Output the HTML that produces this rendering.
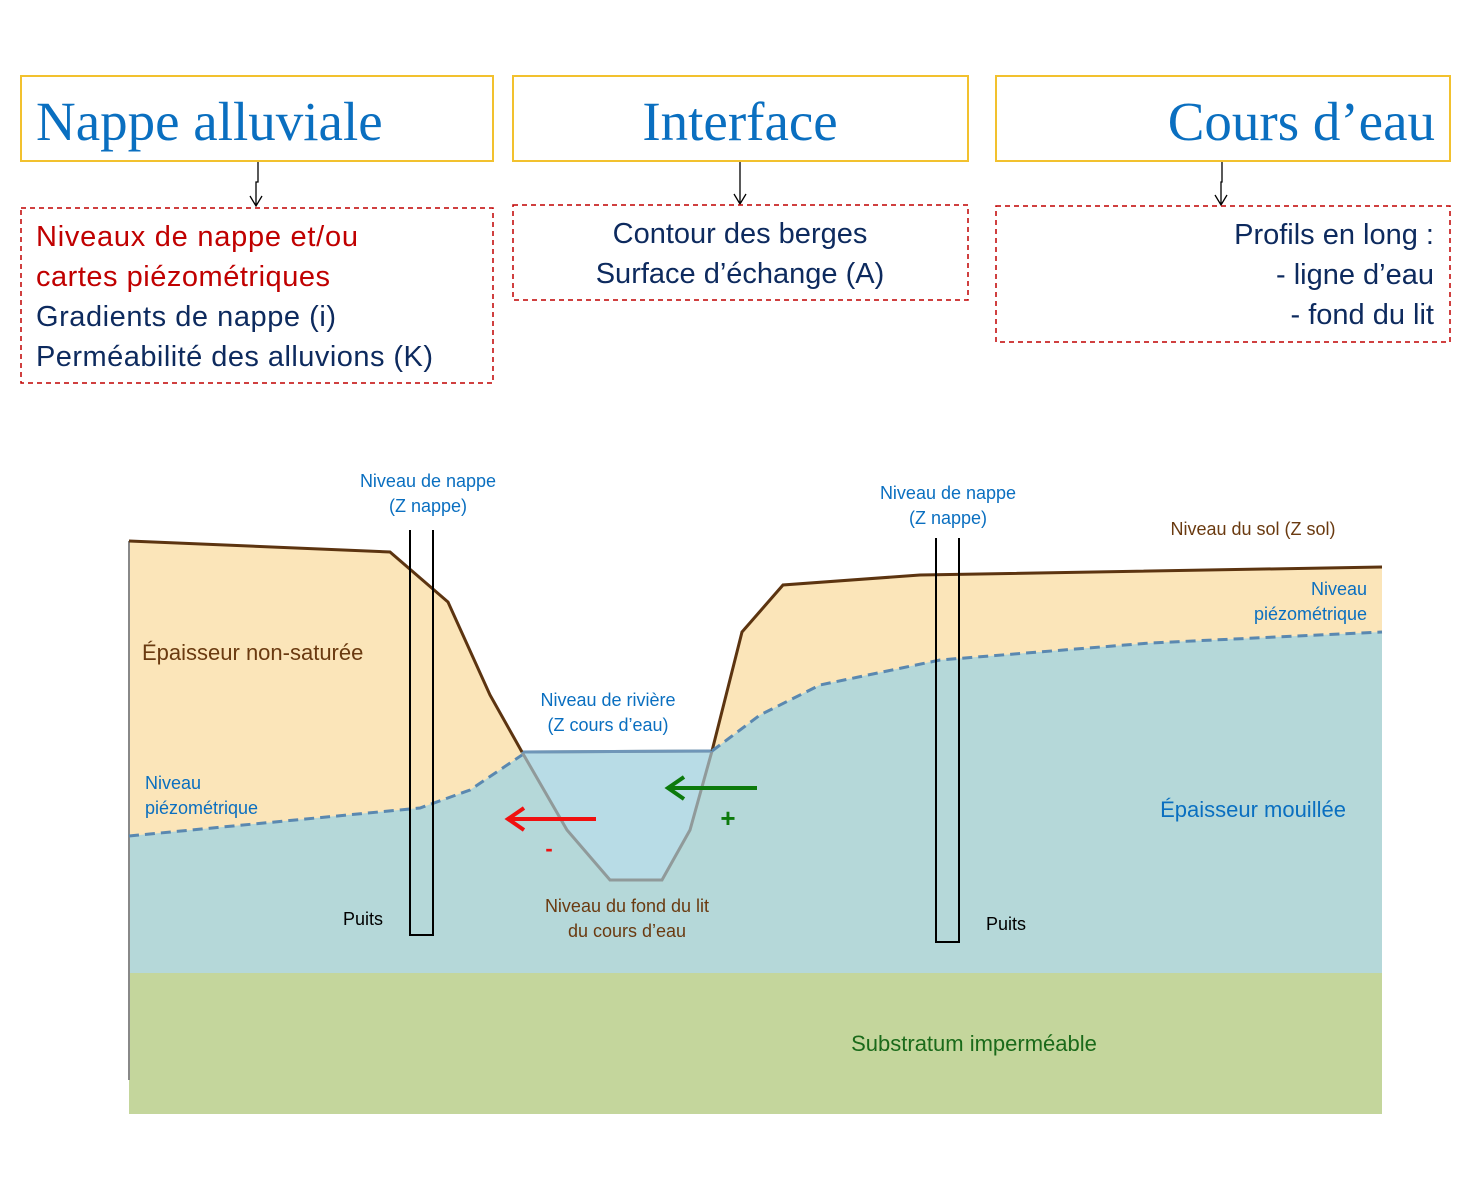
<!DOCTYPE html>
<html><head><meta charset="utf-8"><style>
body{margin:0;background:#fff}
svg{display:block}
text{font-family:"Liberation Sans",sans-serif}
</style></head><body>
<svg width="1470" height="1181" viewBox="0 0 1470 1181" xmlns="http://www.w3.org/2000/svg">
<g fill="none" stroke="#f2c12e" stroke-width="2">
<rect x="21" y="76" width="472" height="85"/>
<rect x="513" y="76" width="455" height="85"/>
<rect x="996" y="76" width="454" height="85"/>
</g>
<g font-size="55" fill="#0a6fc0">
<text x="36" y="140" style="font-family:'Liberation Serif',serif">Nappe alluviale</text>
<text x="740" y="140" text-anchor="middle" style="font-family:'Liberation Serif',serif">Interface</text>
<text x="1435" y="140" text-anchor="end" style="font-family:'Liberation Serif',serif">Cours d’eau</text>
</g>
<g stroke="#000" stroke-width="1.3" fill="none">
<path d="M258 162 V182 H256 V206 M250 196 L256 206 L262 196"/>
<path d="M740 162 V204 M734 194 L740 204 L746 194"/>
<path d="M1222 162 V182 H1221 V205 M1215 195 L1221 205 L1227 195"/>
</g>
<g fill="none" stroke="#c00000" stroke-width="1.5" stroke-dasharray="5,4">
<rect x="21" y="208" width="472" height="175"/>
<rect x="513" y="205" width="455" height="95"/>
<rect x="996" y="206" width="454" height="136"/>
</g>
<g font-size="29">
<text x="36" y="246" fill="#c00000" textLength="322">Niveaux de nappe et/ou</text>
<text x="36" y="286" fill="#c00000" textLength="294">cartes piézométriques</text>
<text x="36" y="326" fill="#0d2a5e" textLength="300">Gradients de nappe (i)</text>
<text x="36" y="366" fill="#0d2a5e" textLength="397">Perméabilité des alluvions (K)</text>
<text x="740" y="243" fill="#0d2a5e" text-anchor="middle">Contour des berges</text>
<text x="740" y="283" fill="#0d2a5e" text-anchor="middle">Surface d’échange (A)</text>
<text x="1434" y="244" fill="#0d2a5e" text-anchor="end">Profils en long :</text>
<text x="1434" y="284" fill="#0d2a5e" text-anchor="end">- ligne d’eau</text>
<text x="1434" y="324" fill="#0d2a5e" text-anchor="end">- fond du lit</text>
</g>
<path d="M129,541 L390,552 L448,602 L490,695 L522,752 L712,751 L742,632 L783,585 L920,575 L1382,567 L1382,973 L129,973 Z" fill="#fbe5b9"/>
<path d="M129,836 L420,808 L470,790 L522,755 L712,751 L760,715 L820,685 L940,660 L1150,643 L1382,632 L1382,1008 L1380,973 L129,973 Z" fill="#b5d8d9"/>
<path d="M522,752 L712,751 L690,830 L662,880 L610,880 L567,830 Z" fill="#b8dce6" stroke="#909a9a" stroke-width="3"/>
<path d="M522,752 L712,751" stroke="#6f96b8" stroke-width="3"/>
<rect x="129" y="973" width="1253" height="141" fill="#c4d69c"/>
<path d="M129,541 V1080" stroke="#888" stroke-width="2"/>
<path d="M129,541 L390,552 L448,602 L490,695 L522,752" fill="none" stroke="#5c3410" stroke-width="3"/>
<path d="M712,751 L742,632 L783,585 L920,575 L1382,567" fill="none" stroke="#5c3410" stroke-width="3"/>
<g fill="none" stroke="#5a88b0" stroke-width="3" stroke-dasharray="10,6">
<path d="M129,836 L420,808 L470,790 L522,755"/>
<path d="M712,751 L760,715 L820,685 L940,660 L1150,643 L1382,632"/>
</g>
<g fill="none" stroke="#000" stroke-width="2">
<path d="M410,530 V935 H433 V530"/>
<path d="M936,538 V942 H959 V538"/>
</g>
<path d="M596,819 H508 M524,808 L508,819 L524,830" fill="none" stroke="#f01010" stroke-width="4"/>
<path d="M757,788 H668 M684,777 L668,788 L684,799" fill="none" stroke="#0c7a0c" stroke-width="4"/>
<text x="549" y="856" fill="#f01010" font-size="22" text-anchor="middle" font-weight="bold">-</text>
<text x="728" y="827" fill="#0c7a0c" font-size="26" text-anchor="middle" font-weight="bold">+</text>
<g font-size="18" fill="#0a6fc0" text-anchor="middle">
<text x="428" y="487">Niveau de nappe</text>
<text x="428" y="512">(Z nappe)</text>
<text x="948" y="499">Niveau de nappe</text>
<text x="948" y="524">(Z nappe)</text>
<text x="608" y="706">Niveau de rivière</text>
<text x="608" y="731">(Z cours d’eau)</text>
<text x="1367" y="595" text-anchor="end">Niveau</text>
<text x="1367" y="620" text-anchor="end">piézométrique</text>
<text x="145" y="789" text-anchor="start">Niveau</text>
<text x="145" y="814" text-anchor="start">piézométrique</text>
</g>
<g font-size="18" fill="#6a3a10">
<text x="1253" y="535" text-anchor="middle">Niveau du sol (Z sol)</text>
<text x="627" y="912" text-anchor="middle">Niveau du fond du lit</text>
<text x="627" y="937" text-anchor="middle">du cours d’eau</text>
</g>
<text x="142" y="660" font-size="22" fill="#6a3a10">Épaisseur non-saturée</text>
<text x="1253" y="817" font-size="22" fill="#0a6fc0" text-anchor="middle">Épaisseur mouillée</text>
<text x="974" y="1051" font-size="22" fill="#1a6a1a" text-anchor="middle">Substratum imperméable</text>
<text x="363" y="925" font-size="18" fill="#000" text-anchor="middle">Puits</text>
<text x="1006" y="930" font-size="18" fill="#000" text-anchor="middle">Puits</text>
</svg>
</body></html>
